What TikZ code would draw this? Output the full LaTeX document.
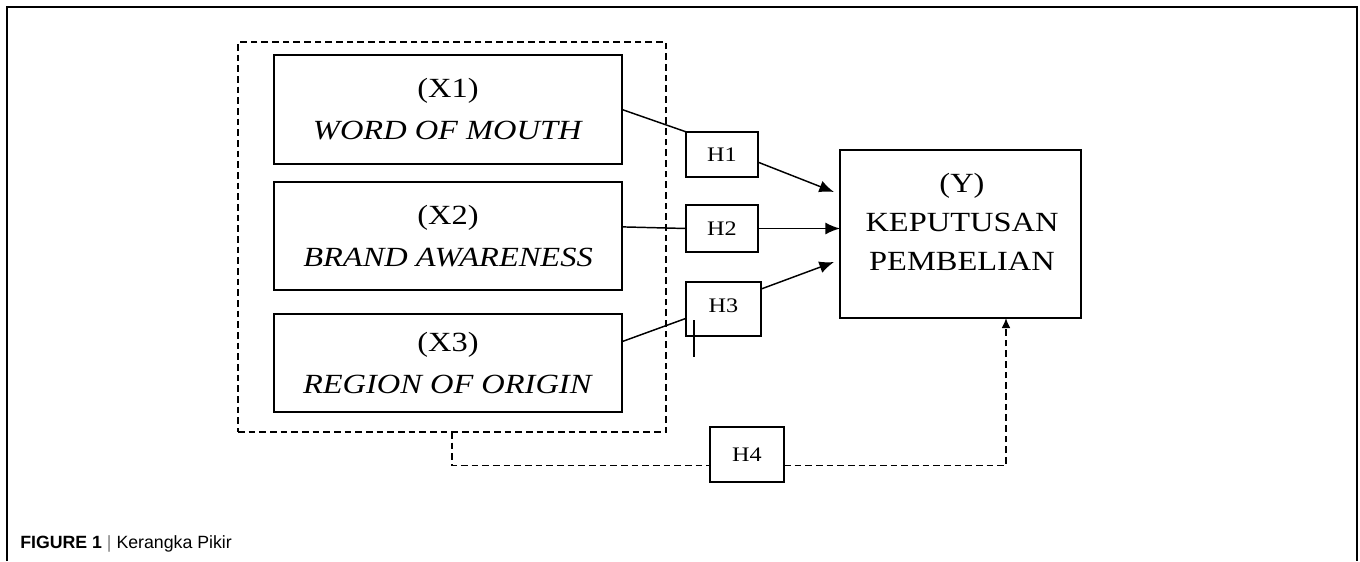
\documentclass[tikz,border=0pt]{standalone}
\usepackage{fontspec}
\usepackage{tikz}
\usepackage{xcolor}
\setmainfont{Liberation Serif}[FakeStretch=1.17]
\newfontfamily\capfont{Liberation Sans}
\usetikzlibrary{arrows.meta}

\begin{document}
\begin{tikzpicture}[x=0.75pt,y=0.75pt,yscale=-1,xscale=1,
  varbox/.style={draw,line width=1.2pt,inner sep=0pt,outer sep=0pt,align=center,
    font=\fontsize{20.8}{31.5}\selectfont},
  hbox/.style={draw,line width=1.1pt,inner sep=0pt,outer sep=0pt,
    minimum width=54pt,minimum height=34pt,font=\fontsize{15.5}{18}\selectfont},
  conn/.style={line width=1.1pt},
  tip/.style={-{Latex[length=11pt,width=9pt]}},
  smalltip/.style={-{Latex[length=7.5pt,width=6.5pt]}},
  dline/.style={line width=1pt,dash pattern=on 5pt off 3pt}]
\useasboundingbox (0,0) rectangle (1360,561);

%Shape: Frame
\draw [line width=1.5pt] (7,561) -- (7,7) -- (1357,7) -- (1357,561) ;

%Shape: Dashed Group
\node [draw,dline,inner sep=0pt,outer sep=0pt,minimum width=321pt,minimum height=292.5pt] (grp) at (452,237) {};

%Shape: Rectangle
\node [varbox,minimum width=261pt,minimum height=81.75pt] (x1) at (448,109.5) {(X1)\\\textit{WORD OF MOUTH}};
%Shape: Rectangle
\node [varbox,minimum width=261pt,minimum height=81pt] (x2) at (448,236) {(X2)\\\textit{BRAND AWARENESS}};
%Shape: Rectangle
\node [varbox,minimum width=261pt,minimum height=73.5pt] (x3) at (448,363) {(X3)\\\textit{REGION OF ORIGIN}};
%Shape: Rectangle
\node [varbox,minimum width=180.75pt,minimum height=126pt] (y) at (960.5,234) {};
% Text Node
\node [align=center,font=\fontsize{20.8}{29}\selectfont] (ytxt) at (962,222) {(Y)\\KEPUTUSAN\\PEMBELIAN};

%Shape: Hypothesis boxes
\node [hbox] (h1) at (722,154.5) {H1};
\node [hbox,minimum height=35.25pt] (h2) at (722,228.5) {H2};
\node [hbox,minimum width=56.25pt,minimum height=40.5pt] (h3) at (723.5,309) {\raisebox{5pt}{H3}};
\node [hbox,minimum width=55.5pt,minimum height=41.25pt] (h4) at (747,454.5) {H4};

\coordinate (ya) at (834,192);
\coordinate (yc) at (834,262);
\coordinate (yd) at (1006,318);

%Straight Lines
\draw [conn] (x1.east) -- (h1.north west) ;
\draw [conn,tip] (h1.-12) -- (ya) ;
%Straight Lines
\draw [conn] (x2.3) -- (h2.west) ;
\draw [conn,tip] (h2.east) -- (y.west |- h2.east) ;
%Straight Lines
\draw [conn] (x3.7) -- (h3.194) ;
\draw [conn,tip] (h3.28) -- (yc) ;
\draw [conn] (694,320) -- (694,357) ;

%Dashed Lines
\draw [dline] (grp.south) |- (h4.197) ;
\draw [dline,smalltip] (h4.-17) -| (yd) ;

% Text Node
\node [anchor=base west,inner sep=0pt,font=\capfont\fontsize{13.3}{16}\selectfont] (cap) at (20,548)
  {\textbf{FIGURE 1} \textcolor{gray}{|} Kerangka Pikir};

\end{tikzpicture}
\end{document}
